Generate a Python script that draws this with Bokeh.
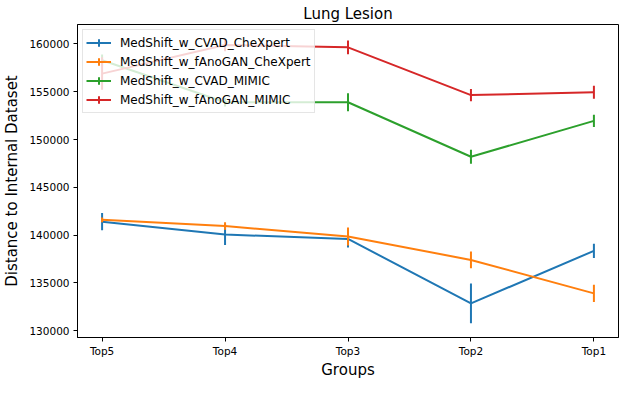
import math
from bokeh.plotting import figure
from bokeh.models import (Range1d, FixedTicker, SingleIntervalTicker, Legend, LegendItem,
                          ColumnDataSource, BasicTickFormatter)
from bokeh.embed import file_html
from bokeh.resources import INLINE

# ---- data ----
groups = ["Top5", "Top4", "Top3", "Top2", "Top1"]
series_names = ["MedShift_w_CVAD_CheXpert", "MedShift_w_fAnoGAN_CheXpert",
                "MedShift_w_CVAD_MIMIC", "MedShift_w_fAnoGAN_MIMIC"]
cvad_chexpert = [141400, 140050, 139600, 132850, 138350]
cvad_chexpert_err = [900, 1100, 900, 2080, 750]
fanogan_chexpert = [141600, 140950, 139850, 137400, 133900]
fanogan_chexpert_err = [250, 400, 950, 870, 900]
cvad_mimic = [158300, 153900, 153900, 148200, 151950]
cvad_mimic_err = [600, 450, 950, 730, 640]
fanogan_mimic = [156900, 159900, 159650, 154650, 154950]
fanogan_mimic_err = [1700, 650, 720, 640, 670]
colors = ["#1f77b4", "#ff7f0e", "#2ca02c", "#d62728"]

values = [cvad_chexpert, fanogan_chexpert, cvad_mimic, fanogan_mimic]
errors = [cvad_chexpert_err, fanogan_chexpert_err, cvad_mimic_err, fanogan_mimic_err]
xs = list(range(len(groups)))

FONT = "DejaVu Sans"

p = figure(width=620, height=381, output_backend="svg", toolbar_location=None,
           x_range=Range1d(-0.2, 4.2), y_range=Range1d(129281, 162039),
           title="Lung Lesion", min_border_left=72, min_border_right=2,
           min_border_top=24, min_border_bottom=0)
p.background_fill_color = "white"
p.border_fill_color = "white"
p.outline_line_color = "black"
p.outline_line_alpha = 1
p.outline_line_width = 1
p.grid.grid_line_color = None

p.title.align = "center"
p.title.text_font = FONT
p.title.text_font_size = "15px"
p.title.text_font_style = "normal"
p.title.text_color = "black"
p.title.standoff = 3

items = []
for name, vals, errs, c in zip(series_names, values, errors, colors):
    src = ColumnDataSource(dict(
        x=xs, y=vals,
        lo=[v - e for v, e in zip(vals, errs)],
        hi=[v + e for v, e in zip(vals, errs)],
    ))
    ln = p.line("x", "y", source=src, line_color=c, line_width=2)
    p.segment("x", "lo", "x", "hi", source=src, line_color=c, line_width=2)
    # zero-size cross: invisible on the plot, gives the legend its error-bar tick
    mk = p.scatter("x", "y", source=src, marker="cross", size=0,
                   line_color=c, line_width=2)
    items.append(LegendItem(label=name, renderers=[ln, mk]))

legend = Legend(items=items, location="top_left", margin=5, padding=3, spacing=0,
                glyph_width=25, glyph_height=19, label_height=19, label_standoff=9,
                label_text_font=FONT, label_text_font_size="12px", label_text_color="black",
                background_fill_alpha=0.8, border_line_color="#cccccc", border_line_width=1)
p.add_layout(legend)

p.xaxis.ticker = FixedTicker(ticks=xs)
p.xaxis.major_label_overrides = {i: g for i, g in zip(xs, groups)}
p.yaxis.ticker = SingleIntervalTicker(interval=5000)
p.yaxis.formatter = BasicTickFormatter(use_scientific=False)

for ax in (p.xaxis[0], p.yaxis[0]):
    ax.axis_line_color = "black"
    ax.major_tick_line_color = "black"
    ax.major_tick_out = 4
    ax.major_tick_in = 0
    ax.minor_tick_line_color = None
    ax.major_label_text_font = FONT
    ax.major_label_text_font_size = "10.5px"
    ax.major_label_text_color = "black"
    ax.axis_label_text_font = FONT
    ax.axis_label_text_font_size = "15px"
    ax.axis_label_text_font_style = "normal"
    ax.axis_label_text_color = "black"

p.xaxis.axis_label = "Groups"
p.yaxis.axis_label = "Distance to Internal Dataset"
p.xaxis.major_label_standoff = 3
p.xaxis.axis_label_standoff = 1
p.yaxis.major_label_standoff = 4
p.yaxis.axis_label_standoff = 5

open("out.html", "w").write(file_html(p, INLINE))
